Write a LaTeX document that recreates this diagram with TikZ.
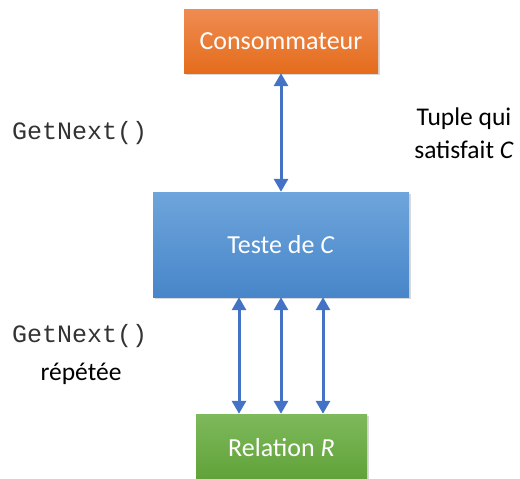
\documentclass[tikz,border=0pt]{standalone}
\usepackage{fontspec}
\setmainfont{Carlito}
\setmonofont{Liberation Mono}
\usetikzlibrary{arrows.meta,shadows}
\definecolor{arrowblue}{HTML}{4472C4}
\definecolor{orangetop}{HTML}{EF8C52}
\definecolor{orangebot}{HTML}{E46C1C}
\definecolor{bluetop}{HTML}{6EA5DB}
\definecolor{bluebot}{HTML}{4886CA}
\definecolor{greentop}{HTML}{7EB95B}
\definecolor{greenbot}{HTML}{5FA138}
\tikzset{
  box/.style={rectangle, inner sep=0pt, text=white, font=\fontsize{26}{30}\selectfont,
    drop shadow={opacity=0.3, shadow xshift=1.5pt, shadow yshift=-2pt}},
  link/.style={draw=arrowblue, line width=3pt,
    {Triangle[width=14pt,length=13pt]}-{Triangle[width=14pt,length=13pt]}},
  lbl/.style={font=\fontsize{25.5}{33}\selectfont, align=center, inner sep=0pt},
  code/.style={font=\ttfamily\fontsize{25}{28}\selectfont, inner sep=0pt, text=black!80}
}
\begin{document}
\begin{tikzpicture}[x=1pt,y=-1pt]
\useasboundingbox (0,0) rectangle (520,479);
\node[box, minimum width=194pt, minimum height=64pt, top color=orangetop, bottom color=orangebot] (cons) at (281,41) {Consommateur};
\node[box, minimum width=256pt, minimum height=105pt, top color=bluetop, bottom color=bluebot] (test) at (281,244.5) {Teste de \textit{C}};
\node[box, minimum width=171pt, minimum height=68pt, top color=greentop, bottom color=greenbot] (rel) at (281.5,448) {Relation \textit{R}};
\draw[link] (cons.south) -- (test.north);
\draw[link] ([xshift=-42pt]test.south) -- ([xshift=-42.5pt]rel.north);
\draw[link] (test.south) -- (test.south |- rel.north);
\draw[link] ([xshift=42pt]test.south) -- ([xshift=41.5pt]rel.north);
\node[code, anchor=west] (gn1) at (12,133) {GetNext()};
\node[lbl] (tuple) at (464,133) {Tuple qui\\satisfait \textit{C}};
\node[code, anchor=west] (gn2) at (12,336) {GetNext()};
\node[lbl] (rep) at (81,374) {répétée};
\end{tikzpicture}
\end{document}
